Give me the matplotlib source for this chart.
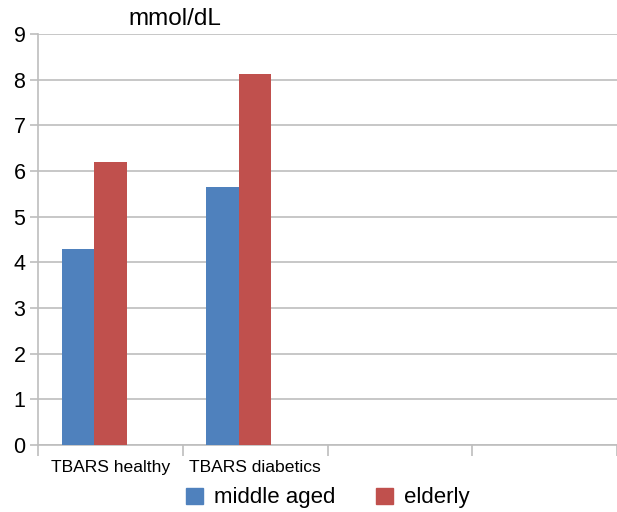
import matplotlib.pyplot as plt
from matplotlib.patches import Patch

categories = ["TBARS healthy", "TBARS diabetics", "", ""]
middle_aged = [4.3, 5.66]
elderly = [6.2, 8.12]
yticks = [0, 1, 2, 3, 4, 5, 6, 7, 8, 9]

blue = "#4F81BD"
red = "#C0504D"
grid_gray = "#BEBEBE"

plt.rcParams['font.family'] = ['Liberation Sans', 'DejaVu Sans']

fig = plt.figure(figsize=(6.17, 5.12), dpi=100)
ax = fig.add_axes([38 / 617, 67 / 512, 579 / 617, 411 / 512])

# three slots per category (third one empty), bars in the first two
w = 0.2245
xs = [i + 0.5 for i in range(len(middle_aged))]
ax.bar([x - w for x in xs], middle_aged, width=w, color=blue, zorder=3)
ax.bar(xs, elderly, width=w, color=red, zorder=3)

ax.set_xlim(0, len(categories))
ax.set_ylim(0, 9)
ax.set_yticks(yticks)
ax.yaxis.grid(True, color=grid_gray, linewidth=1.2, zorder=0)

# category boundaries as ticks, names centred between them
ax.set_xticks(range(len(categories) + 1))
ax.set_xticklabels([])
ax.set_xticks([i + 0.5 for i in range(len(categories))], minor=True)
ax.set_xticklabels(categories, minor=True, fontsize=12.6)
ax.tick_params(axis='x', which='major', length=8, color=grid_gray, width=1.2)
ax.tick_params(axis='x', which='minor', length=0, pad=11)
ax.tick_params(axis='y', length=6, color=grid_gray, width=1.2, labelsize=15.5, pad=3)

for side in ["top", "right"]:
    ax.spines[side].set_visible(False)
for side in ["left", "bottom"]:
    ax.spines[side].set_color(grid_gray)
    ax.spines[side].set_linewidth(1.2)

fig.text(175 / 617, 1 - 19 / 512, "mmol/dL", fontsize=17.5, ha="center", va="center")

handles = [Patch(color=blue), Patch(color=red)]
fig.legend(handles, ["middle aged", "elderly"], loc="center", bbox_to_anchor=(328 / 617, 1 - 498 / 512),
           ncol=2, frameon=False, fontsize=16, handlelength=0.75, handleheight=0.75,
           handletextpad=0.5, columnspacing=1.85)

fig.savefig("out.png", dpi=100)
